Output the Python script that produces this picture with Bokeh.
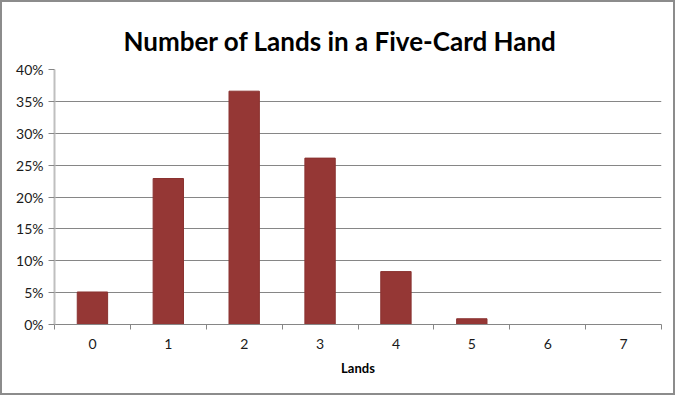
from bokeh.plotting import figure
from bokeh.models import FixedTicker, NumeralTickFormatter, ColumnDataSource, Range1d
from bokeh.embed import file_html
from bokeh.resources import INLINE

lands = [0, 1, 2, 3, 4, 5, 6, 7]
probability = [0.051, 0.229, 0.366, 0.261, 0.083, 0.009, 0.0, 0.0]
tick_labels = ["0", "1", "2", "3", "4", "5", "6", "7"]
y_ticks = [0, 0.05, 0.10, 0.15, 0.20, 0.25, 0.30, 0.35, 0.40]

FONT = "Lato"

src = ColumnDataSource(dict(x=lands, y=probability))

p = figure(width=675, height=395, output_backend="svg", toolbar_location=None,
           x_range=Range1d(-0.5, 7.5), y_range=Range1d(0, 0.4),
           min_border_left=52, min_border_right=16, min_border_top=67,
           min_border_bottom=73, title="Number of Lands in a Five-Card Hand")
p.styles = {"border": "2px solid #8c8c8c", "box-sizing": "border-box"}

p.title.align = "left"
p.title.offset = 69
p.title.standoff = 25
p.title.text_font = FONT
p.title.text_font_size = "26px"
p.title.text_font_style = "bold"
p.title.text_color = "#000000"

p.vbar(x="x", top="y", width=0.4, source=src, fill_color="#953735",
       line_color="#8a3230", line_width=1)

p.outline_line_color = None

# x axis
xa = p.xaxis[0]
xa.ticker = FixedTicker(ticks=lands, minor_ticks=[i - 0.5 for i in range(9)])
xa.major_label_overrides = {i: t for i, t in zip(lands, tick_labels)}
xa.major_tick_out = 0
xa.major_tick_in = 0
xa.minor_tick_out = 5
xa.minor_tick_in = 0
xa.minor_tick_line_color = "#868686"
xa.axis_line_color = "#868686"
xa.axis_line_width = 1
xa.major_label_text_font = FONT
xa.major_label_text_font_size = "14px"
xa.major_label_text_color = "#1a1a1a"
xa.major_label_standoff = 9
xa.axis_label = "Lands"
xa.axis_label_text_font = FONT
xa.axis_label_text_font_size = "13px"
xa.axis_label_text_font_style = "bold"
xa.axis_label_text_color = "#000000"
xa.axis_label_standoff = 8

# y axis
ya = p.yaxis[0]
ya.ticker = FixedTicker(ticks=y_ticks, minor_ticks=[])
ya.formatter = NumeralTickFormatter(format="0%")
ya.major_tick_out = 6
ya.major_tick_in = 0
ya.major_tick_line_color = "#868686"
ya.axis_line_color = "#bfbfbf"
ya.axis_line_width = 2
ya.major_label_text_font = FONT
ya.major_label_text_font_size = "14px"
ya.major_label_text_color = "#1a1a1a"
ya.major_label_standoff = 5

p.xgrid.grid_line_color = None
p.ygrid.ticker = FixedTicker(ticks=y_ticks)
p.ygrid.grid_line_color = "#868686"
p.ygrid.grid_line_width = 1

open("out.html", "w").write(file_html(p, INLINE))
